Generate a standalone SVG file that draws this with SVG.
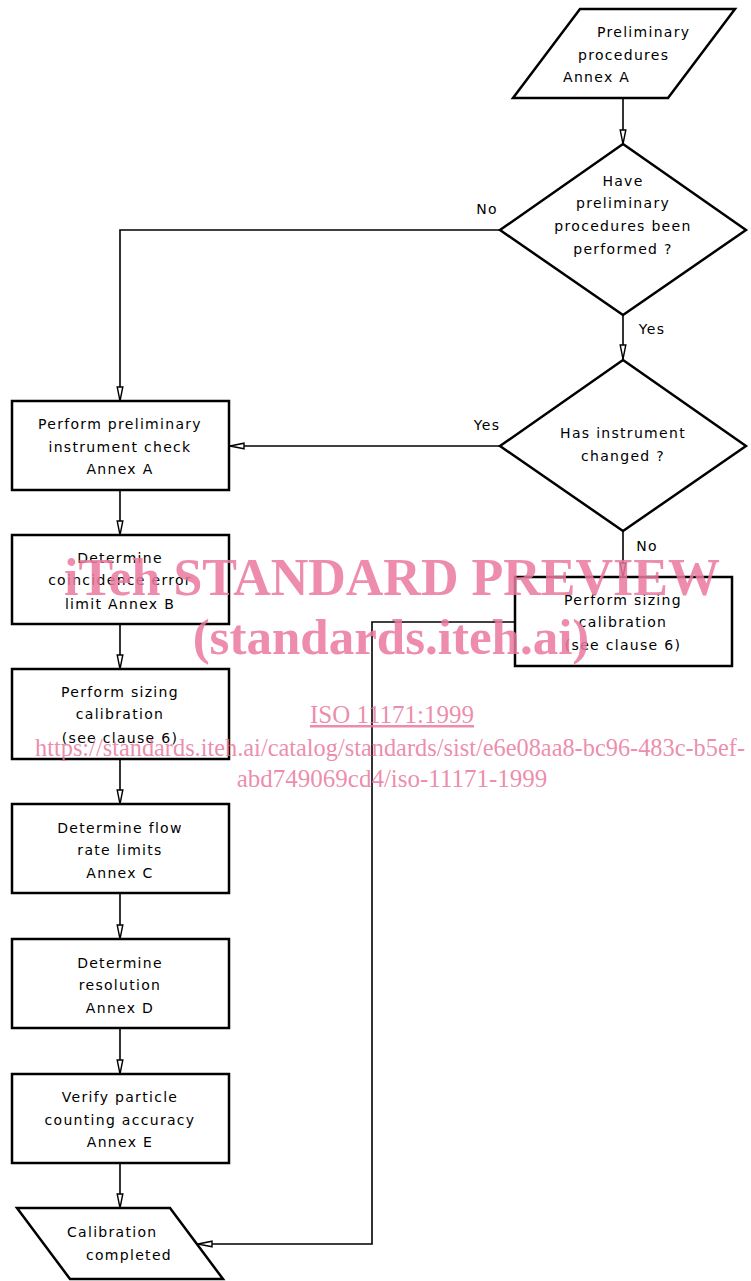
<svg xmlns="http://www.w3.org/2000/svg" width="751" height="1281" viewBox="0 0 751 1281">
<style>
.shape{fill:#fff;stroke:#000;stroke-width:2.5;stroke-linejoin:miter}
.conn{fill:none;stroke:#000;stroke-width:1.6}
.t{font-family:"DejaVu Sans",sans-serif;font-size:14px;letter-spacing:1.3px;fill:#000;text-anchor:middle}
.ts{font-family:"DejaVu Sans",sans-serif;font-size:14px;letter-spacing:1.3px;fill:#000;text-anchor:start}
.wm{font-family:"Liberation Serif",serif;fill:#ea789d;fill-opacity:0.85;text-anchor:middle}
</style>
<defs>
<marker id="arr" markerUnits="userSpaceOnUse" markerWidth="16" markerHeight="8" refX="15" refY="4" orient="auto">
<path d="M1,1.2 L15,4 L1,6.8 z" fill="#fff" stroke="#000" stroke-width="1.4"/>
</marker>
</defs>
<g id="connectors">
<line class="conn" x1="623" y1="98" x2="623" y2="144" marker-end="url(#arr)"/>
<polyline class="conn" points="500,230 120,230 120,401" marker-end="url(#arr)"/>
<line class="conn" x1="623" y1="315" x2="623" y2="359" marker-end="url(#arr)"/>
<line class="conn" x1="500" y1="446" x2="230" y2="446" marker-end="url(#arr)"/>
<line class="conn" x1="623" y1="531" x2="623" y2="577" marker-end="url(#arr)"/>
<polyline class="conn" points="515,622 372,622 372,1244 198,1244" marker-end="url(#arr)"/>
<line class="conn" x1="120" y1="490" x2="120" y2="535" marker-end="url(#arr)"/>
<line class="conn" x1="120" y1="624" x2="120" y2="669" marker-end="url(#arr)"/>
<line class="conn" x1="120" y1="759" x2="120" y2="804" marker-end="url(#arr)"/>
<line class="conn" x1="120" y1="893" x2="120" y2="939" marker-end="url(#arr)"/>
<line class="conn" x1="120" y1="1028" x2="120" y2="1074" marker-end="url(#arr)"/>
<line class="conn" x1="120" y1="1163" x2="120" y2="1208" marker-end="url(#arr)"/>
</g>
<g id="start">
<polygon class="shape" points="580,9 735,9 668,98 513,98"/>
<text class="ts" x="597" y="37">Preliminary</text>
<text class="ts" x="578" y="60">procedures</text>
<text class="ts" x="563" y="82">Annex  A</text>
</g>
<g id="decision1">
<polygon class="shape" points="623,144 746,230 623,315 500,230"/>
<text class="t" x="623" y="186">Have</text>
<text class="t" x="623" y="208">preliminary</text>
<text class="t" x="623" y="231">procedures been</text>
<text class="t" x="623" y="254">performed ?</text>
<text class="t" x="487" y="214">No</text>
<text class="t" x="652" y="334">Yes</text>
</g>
<g id="decision2">
<polygon class="shape" points="623,360 746,446 623,531 500,446"/>
<text class="t" x="623" y="438">Has instrument</text>
<text class="t" x="623" y="461">changed ?</text>
<text class="t" x="487" y="430">Yes</text>
<text class="t" x="647" y="551">No</text>
</g>
<g id="box-right">
<rect class="shape" x="515" y="577" width="217" height="89"/>
<text class="t" x="623" y="605">Perform sizing</text>
<text class="t" x="623" y="627">calibration</text>
<text class="t" x="623" y="650">(see clause 6)</text>
</g>
<g id="box1">
<rect class="shape" x="12" y="401" width="217" height="89"/>
<text class="t" x="120" y="429">Perform preliminary</text>
<text class="t" x="120" y="452">instrument check</text>
<text class="t" x="120" y="474">Annex A</text>
</g>
<g id="box2">
<rect class="shape" x="12" y="535" width="217" height="89"/>
<text class="t" x="120" y="563">Determine</text>
<text class="t" x="120" y="585">coincidence error</text>
<text class="t" x="120" y="609">limit Annex B</text>
</g>
<g id="box3">
<rect class="shape" x="12" y="669" width="217" height="90"/>
<text class="t" x="120" y="697">Perform sizing</text>
<text class="t" x="120" y="719">calibration</text>
<text class="t" x="120" y="743">(see clause 6)</text>
</g>
<g id="box4">
<rect class="shape" x="12" y="804" width="217" height="89"/>
<text class="t" x="120" y="833">Determine flow</text>
<text class="t" x="120" y="855">rate limits</text>
<text class="t" x="120" y="878">Annex C</text>
</g>
<g id="box5">
<rect class="shape" x="12" y="939" width="217" height="89"/>
<text class="t" x="120" y="968">Determine</text>
<text class="t" x="120" y="990">resolution</text>
<text class="t" x="120" y="1013">Annex D</text>
</g>
<g id="box6">
<rect class="shape" x="12" y="1074" width="217" height="89"/>
<text class="t" x="120" y="1102">Verify particle</text>
<text class="t" x="120" y="1125">counting accuracy</text>
<text class="t" x="120" y="1147">Annex E</text>
</g>
<g id="end">
<polygon class="shape" points="17,1208 170,1208 223,1279 70,1279"/>
<text class="ts" x="67" y="1237">Calibration</text>
<text class="ts" x="86" y="1260">completed</text>
</g>
<g id="watermark">
<text class="wm" x="392" y="595" font-size="52" font-weight="bold">iTeh STANDARD PREVIEW</text>
<text class="wm" x="391" y="654" font-size="51" font-weight="bold">(standards.iteh.ai)</text>
<text class="wm" x="392" y="723" font-size="25" text-decoration="underline">ISO 11171:1999</text>
<text class="wm" x="390" y="756" font-size="25" textLength="710" lengthAdjust="spacingAndGlyphs">https://standards.iteh.ai/catalog/standards/sist/e6e08aa8-bc96-483c-b5ef-</text>
<text class="wm" x="392" y="787" font-size="25">abd749069cd4/iso-11171-1999</text>
</g>
</svg>
